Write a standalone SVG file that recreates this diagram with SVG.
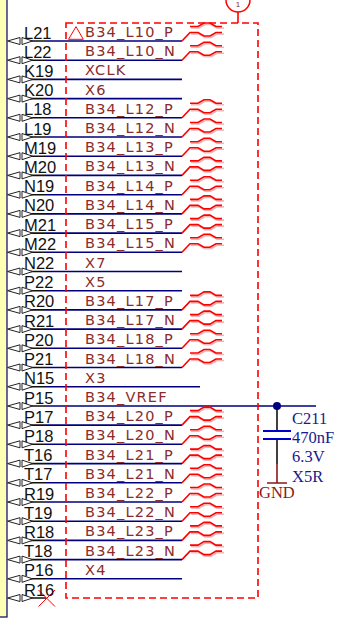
<svg xmlns="http://www.w3.org/2000/svg" xmlns:xlink="http://www.w3.org/1999/xlink" width="338" height="633" viewBox="0 0 338 633">
<style>
text{font-family:"Liberation Sans",Arial,sans-serif}
.pin{font-size:16.5px;fill:#111}
.net{font-family:"DejaVu Sans",sans-serif;font-size:14.5px;fill:#8b2c2c;letter-spacing:1.2px}
.w{stroke:#00007f;stroke-width:1.6;fill:none}
.b{stroke:#111;stroke-width:1.6;fill:none}
.val{font-family:"Liberation Serif",serif;font-size:16.5px;fill:#1a1a8c}
.d{stroke:#f00;stroke-width:1.6;fill:none}
.s{stroke:#f2b8b8;stroke-width:1.6;fill:none}
</style>
<defs>
<g id="port"><path d="M7.5 0L20 -3.5V3.5ZM32.5 0L22 -3.5V3.5Z" fill="#fff" stroke="#222" stroke-width="1"/></g>
<g id="dp"><path d="M191 -13H199L205 -16.5H211L217 -13H224M191 -7H199L205 -3.5H211L217 -7H224" class="s"/><path d="M190 -14.5H198L204 -18H210L216 -14.5H222" class="d"/><path d="M182 0L190 -8.5H198L204 -5H210L216 -8.5H222" class="d"/></g>
</defs>
<g id="chip"><rect x="-2" y="-2" width="9" height="619" fill="#ffffb4" stroke="#00006e" stroke-width="1.2"/></g>
<g id="connectors">
<path class="b" d="M30 41H46M30 60.2H46M30 79.4H46M30 98.6H46M30 117.8H46M30 137H46M30 156.2H46M30 175.4H46M30 194.7H46M30 213.9H46M30 233.1H46M30 252.3H46M30 271.5H46M30 290.7H46M30 309.9H46M30 329.1H46M30 348.3H46M30 367.5H46M30 386.7H46M30 406H46M30 425.1H46M30 444.3H46M30 463.6H46M30 482.8H46M30 502H46M30 521.2H46M30 540.4H46M30 559.6H46M30 578.8H46M30 598H46"/>
<path class="w" d="M46 41H182M46 60.2H182M46 79.4H182M46 98.6H182M46 117.8H182M46 137H182M46 156.2H182M46 175.4H182M46 194.7H182M46 213.9H182M46 233.1H182M46 252.3H182M46 271.5H182M46 290.7H182M46 309.9H182M46 329.1H182M46 348.3H182M46 367.5H182M46 386.7H200M46 406H316M46 425.1H182M46 444.3H182M46 463.6H182M46 482.8H182M46 502H182M46 521.2H182M46 540.4H182M46 559.6H182M46 578.8H182"/>
<path d="M277 406V431M277 439V464" stroke="#111" stroke-width="1.6" fill="none"/>
<path d="M277 464V483M267 483H287" stroke="#8b1a1a" stroke-width="1.6" fill="none"/>
<path d="M263 431H291M263 439H291" stroke="#0000cc" stroke-width="2" fill="none"/>
<circle cx="277" cy="406" r="4" fill="#00007f"/>
<path d="M38.5 590L55 606.5M55 590L38.5 606.5" stroke="#f00" stroke-width="1"/>
</g>
<g id="group-box"><rect x="66" y="23" width="192" height="575" fill="none" stroke="#f00" stroke-width="1.6" stroke-dasharray="7 4"/>
<path d="M68.5 39.3L76 26.7L83.3 39.3Z" fill="none" stroke="#f00" stroke-width="1"/>
<path d="M238 11V23" stroke="#f00" stroke-width="1.6"/>
<circle cx="238" cy="0" r="12" fill="#fff" stroke="#f00" stroke-width="1.5"/>
<text x="238" y="6.5" text-anchor="middle" style="font-size:8px;fill:#8b2c2c">1</text></g>
<g id="ports">
<use xlink:href="#port" y="41"/><use xlink:href="#port" y="60.2"/><use xlink:href="#port" y="79.4"/><use xlink:href="#port" y="98.6"/><use xlink:href="#port" y="117.8"/><use xlink:href="#port" y="137"/><use xlink:href="#port" y="156.2"/><use xlink:href="#port" y="175.4"/><use xlink:href="#port" y="194.7"/><use xlink:href="#port" y="213.9"/><use xlink:href="#port" y="233.1"/><use xlink:href="#port" y="252.3"/><use xlink:href="#port" y="271.5"/><use xlink:href="#port" y="290.7"/><use xlink:href="#port" y="309.9"/><use xlink:href="#port" y="329.1"/><use xlink:href="#port" y="348.3"/><use xlink:href="#port" y="367.5"/><use xlink:href="#port" y="386.7"/><use xlink:href="#port" y="406"/><use xlink:href="#port" y="425.1"/><use xlink:href="#port" y="444.3"/><use xlink:href="#port" y="463.6"/><use xlink:href="#port" y="482.8"/><use xlink:href="#port" y="502"/><use xlink:href="#port" y="521.2"/><use xlink:href="#port" y="540.4"/><use xlink:href="#port" y="559.6"/><use xlink:href="#port" y="578.8"/><use xlink:href="#port" y="598"/>
</g>
<g id="diffpairs">
<use xlink:href="#dp" y="41"/><use xlink:href="#dp" y="60.2"/><use xlink:href="#dp" y="117.8"/><use xlink:href="#dp" y="137"/><use xlink:href="#dp" y="156.2"/><use xlink:href="#dp" y="175.4"/><use xlink:href="#dp" y="194.7"/><use xlink:href="#dp" y="213.9"/><use xlink:href="#dp" y="233.1"/><use xlink:href="#dp" y="252.3"/><use xlink:href="#dp" y="309.9"/><use xlink:href="#dp" y="329.1"/><use xlink:href="#dp" y="348.3"/><use xlink:href="#dp" y="367.5"/><use xlink:href="#dp" y="425.1"/><use xlink:href="#dp" y="444.3"/><use xlink:href="#dp" y="463.6"/><use xlink:href="#dp" y="482.8"/><use xlink:href="#dp" y="502"/><use xlink:href="#dp" y="521.2"/><use xlink:href="#dp" y="540.4"/><use xlink:href="#dp" y="559.6"/>
</g>
<g id="pins">
<text class="pin" x="24" y="38.5">L21</text><text class="pin" x="24" y="57.7">L22</text><text class="pin" x="24" y="76.9">K19</text><text class="pin" x="24" y="96.1">K20</text><text class="pin" x="24" y="115.3">L18</text><text class="pin" x="24" y="134.5">L19</text><text class="pin" x="24" y="153.7">M19</text><text class="pin" x="24" y="172.9">M20</text><text class="pin" x="24" y="192.2">N19</text><text class="pin" x="24" y="211.4">N20</text><text class="pin" x="24" y="230.6">M21</text><text class="pin" x="24" y="249.8">M22</text><text class="pin" x="24" y="269">N22</text><text class="pin" x="24" y="288.2">P22</text><text class="pin" x="24" y="307.4">R20</text><text class="pin" x="24" y="326.6">R21</text><text class="pin" x="24" y="345.8">P20</text><text class="pin" x="24" y="365">P21</text><text class="pin" x="24" y="384.2">N15</text><text class="pin" x="24" y="403.5">P15</text><text class="pin" x="24" y="422.6">P17</text><text class="pin" x="24" y="441.8">P18</text><text class="pin" x="24" y="461.1">T16</text><text class="pin" x="24" y="480.3">T17</text><text class="pin" x="24" y="499.5">R19</text><text class="pin" x="24" y="518.7">T19</text><text class="pin" x="24" y="537.9">R18</text><text class="pin" x="24" y="557.1">T18</text><text class="pin" x="24" y="576.3">P16</text><text class="pin" x="24" y="595.5">R16</text>
</g>
<g id="nets">
<text class="net" x="85" y="37">B34_L10_P</text><text class="net" x="85" y="56.2">B34_L10_N</text><text class="net" x="85" y="75.4">XCLK</text><text class="net" x="85" y="94.6">X6</text><text class="net" x="85" y="113.8">B34_L12_P</text><text class="net" x="85" y="133">B34_L12_N</text><text class="net" x="85" y="152.2">B34_L13_P</text><text class="net" x="85" y="171.4">B34_L13_N</text><text class="net" x="85" y="190.7">B34_L14_P</text><text class="net" x="85" y="209.9">B34_L14_N</text><text class="net" x="85" y="229.1">B34_L15_P</text><text class="net" x="85" y="248.3">B34_L15_N</text><text class="net" x="85" y="267.5">X7</text><text class="net" x="85" y="286.7">X5</text><text class="net" x="85" y="305.9">B34_L17_P</text><text class="net" x="85" y="325.1">B34_L17_N</text><text class="net" x="85" y="344.3">B34_L18_P</text><text class="net" x="85" y="363.5">B34_L18_N</text><text class="net" x="85" y="382.7">X3</text><text class="net" x="85" y="402">B34_VREF</text><text class="net" x="85" y="421.1">B34_L20_P</text><text class="net" x="85" y="440.3">B34_L20_N</text><text class="net" x="85" y="459.6">B34_L21_P</text><text class="net" x="85" y="478.8">B34_L21_N</text><text class="net" x="85" y="498">B34_L22_P</text><text class="net" x="85" y="517.2">B34_L22_N</text><text class="net" x="85" y="536.4">B34_L23_P</text><text class="net" x="85" y="555.6">B34_L23_N</text><text class="net" x="85" y="574.8">X4</text>
</g>
<g id="C211">
<text class="val" x="292" y="423.5">C211</text><text class="val" x="292" y="442.5">470nF</text><text class="val" x="292" y="461.7">6.3V</text><text class="val" x="292" y="481.5">X5R</text>
<text x="259" y="498" style="font-family:'Liberation Serif',serif;font-size:16.5px;fill:#8b1a1a">GND</text>
</g>
</svg>
